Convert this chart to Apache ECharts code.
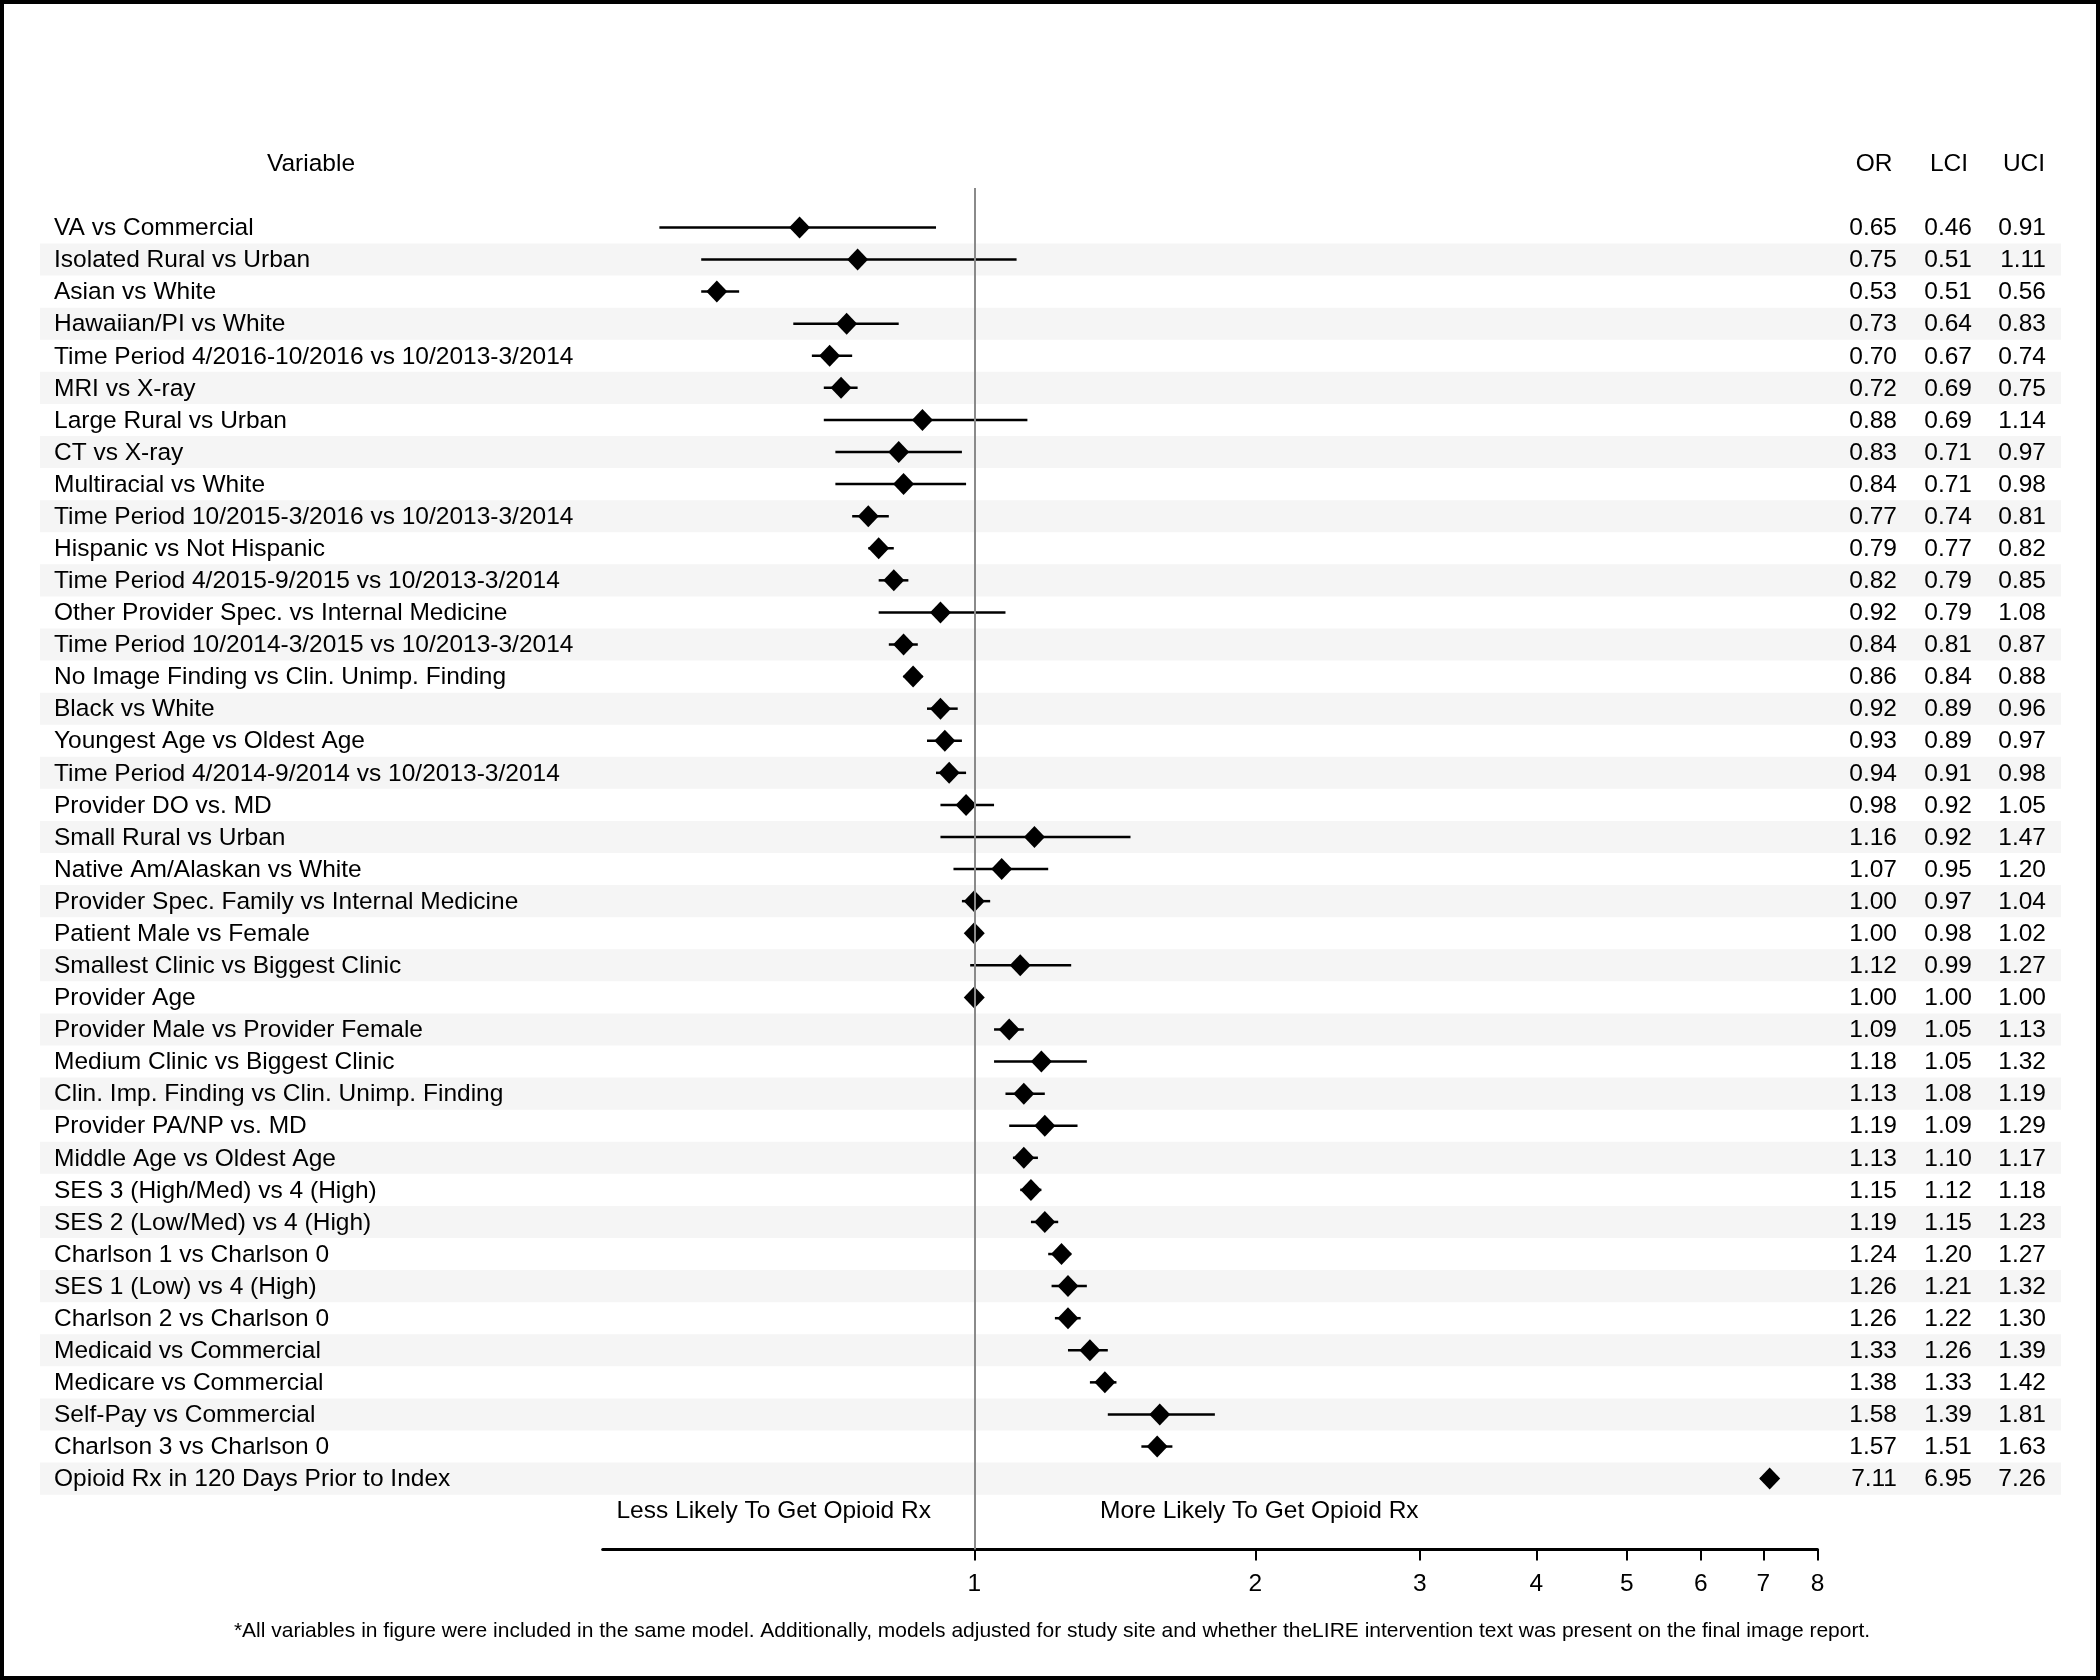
<!DOCTYPE html>
<html>
<head>
<meta charset="utf-8">
<script src="https://cdn.jsdelivr.net/npm/echarts@6/dist/echarts.min.js"></script>
<style>html,body{margin:0;padding:0;background:#fff;}#main{width:2100px;height:1680px;}</style>
</head>
<body>
<div id="main"></div>
<script>
const variables = [
  'VA vs Commercial',
  'Isolated Rural vs Urban',
  'Asian vs White',
  'Hawaiian/PI vs White',
  'Time Period 4/2016-10/2016 vs 10/2013-3/2014',
  'MRI vs X-ray',
  'Large Rural vs Urban',
  'CT vs X-ray',
  'Multiracial vs White',
  'Time Period 10/2015-3/2016 vs 10/2013-3/2014',
  'Hispanic vs Not Hispanic',
  'Time Period 4/2015-9/2015 vs 10/2013-3/2014',
  'Other Provider Spec. vs Internal Medicine',
  'Time Period 10/2014-3/2015 vs 10/2013-3/2014',
  'No Image Finding vs Clin. Unimp. Finding',
  'Black vs White',
  'Youngest Age vs Oldest Age',
  'Time Period 4/2014-9/2014 vs 10/2013-3/2014',
  'Provider DO vs. MD',
  'Small Rural vs Urban',
  'Native Am/Alaskan vs White',
  'Provider Spec. Family vs Internal Medicine',
  'Patient Male vs Female',
  'Smallest Clinic vs Biggest Clinic',
  'Provider Age',
  'Provider Male vs Provider Female',
  'Medium Clinic vs Biggest Clinic',
  'Clin. Imp. Finding vs Clin. Unimp. Finding',
  'Provider PA/NP vs. MD',
  'Middle Age vs Oldest Age',
  'SES 3 (High/Med) vs 4 (High)',
  'SES 2 (Low/Med) vs 4 (High)',
  'Charlson 1 vs Charlson 0',
  'SES 1 (Low) vs 4 (High)',
  'Charlson 2 vs Charlson 0',
  'Medicaid vs Commercial',
  'Medicare vs Commercial',
  'Self-Pay vs Commercial',
  'Charlson 3 vs Charlson 0',
  'Opioid Rx in 120 Days Prior to Index'
];
const orValues = [0.65,0.75,0.53,0.73,0.70,0.72,0.88,0.83,0.84,0.77,0.79,0.82,0.92,0.84,0.86,0.92,0.93,0.94,0.98,1.16,1.07,1.00,1.00,1.12,1.00,1.09,1.18,1.13,1.19,1.13,1.15,1.19,1.24,1.26,1.26,1.33,1.38,1.58,1.57,7.11];
const lciValues = [0.46,0.51,0.51,0.64,0.67,0.69,0.69,0.71,0.71,0.74,0.77,0.79,0.79,0.81,0.84,0.89,0.89,0.91,0.92,0.92,0.95,0.97,0.98,0.99,1.00,1.05,1.05,1.08,1.09,1.10,1.12,1.15,1.20,1.21,1.22,1.26,1.33,1.39,1.51,6.95];
const uciValues = [0.91,1.11,0.56,0.83,0.74,0.75,1.14,0.97,0.98,0.81,0.82,0.85,1.08,0.87,0.88,0.96,0.97,0.98,1.05,1.47,1.20,1.04,1.02,1.27,1.00,1.13,1.32,1.19,1.29,1.17,1.18,1.23,1.27,1.32,1.30,1.39,1.42,1.81,1.63,7.26];
const xTicks = [1,2,3,4,5,6,7,8];
const columnHeaders = ['OR','LCI','UCI'];
const variableHeader = 'Variable';
const lessText = 'Less Likely To Get Opioid Rx';
const moreText = 'More Likely To Get Opioid Rx';
const footnote = '*All variables in figure were included in the same model. Additionally, models adjusted for study site and whether theLIRE intervention text was present on the final image report.';

const FONT = '"Liberation Sans", Arial, Helvetica, sans-serif';
const FS = 24.5;
const chart = echarts.init(document.getElementById('main'), null, {renderer: 'canvas'});

const rowIdx = variables.map((v, i) => i);
const colRight = [1897, 1972, 2046];
const colCenter = [1874, 1949, 2024];

const option = {
  animation: false,
  backgroundColor: '#ffffff',
  textStyle: {fontFamily: FONT},
  grid: {left: 602.7, right: 282.5, top: 188, bottom: 130.5, containLabel: false},
  xAxis: {
    type: 'log', logBase: 10, min: 0.4, max: 8,
    axisLine: {show: true, onZero: false, lineStyle: {color: '#000', width: 3}},
    axisTick: {show: true, length: 11, customValues: xTicks, lineStyle: {color: '#000', width: 2}},
    axisLabel: {customValues: xTicks, fontSize: FS, color: '#000', margin: 22, fontFamily: FONT,
      formatter: v => String(Math.round(v))},
    splitLine: {show: false},
    minorTick: {show: false}
  },
  yAxis: {type: 'value', inverse: true, min: -1.23, max: 41.21, show: false},
  graphic: [
    {type: 'rect', shape: {x: 2, y: 2, width: 2096, height: 1676}, style: {fill: 'none', stroke: '#000', lineWidth: 4}, z: 100},
    {type: 'text', x: 311, y: 164, style: {text: variableHeader, fontSize: FS, fontFamily: FONT, fill: '#000', align: 'center', verticalAlign: 'middle'}},
    ...columnHeaders.map((h, k) => ({type: 'text', x: colCenter[k], y: 164,
      style: {text: h, fontSize: FS, fontFamily: FONT, fill: '#000', align: 'center', verticalAlign: 'middle'}})),
    {type: 'text', x: 931, y: 1511, style: {text: lessText, fontSize: FS, fontFamily: FONT, fill: '#000', align: 'right', verticalAlign: 'middle'}},
    {type: 'text', x: 1100, y: 1511, style: {text: moreText, fontSize: FS, fontFamily: FONT, fill: '#000', align: 'left', verticalAlign: 'middle'}},
    {type: 'text', x: 1052, y: 1631, style: {text: footnote, fontSize: 21, fontFamily: FONT, fill: '#000', align: 'center', verticalAlign: 'middle'}}
  ],
  series: [
    {
      type: 'custom', name: 'stripes', silent: true, z: 0, clip: false,
      data: rowIdx.filter(i => i % 2 === 1).map(i => [1, i]),
      encode: {x: 0, y: 1},
      renderItem: (params, api) => {
        const i = api.value(1);
        const y0 = api.coord([1, i - 0.5])[1];
        const y1 = api.coord([1, i + 0.5])[1];
        return {type: 'rect', shape: {x: 40, y: y0, width: 2021, height: y1 - y0}, style: {fill: '#f5f5f5'}};
      }
    },
    {
      type: 'custom', name: 'labels', silent: true, z: 1, clip: false,
      data: rowIdx.map(i => [1, i]),
      encode: {x: 0, y: 1},
      renderItem: (params, api) => {
        const i = api.value(1);
        const y = api.coord([1, i])[1] + 1;
        const k = params.dataIndex;
        const vals = [orValues[k], lciValues[k], uciValues[k]];
        const children = [{type: 'text', style: {text: variables[k], x: 54, y: y, fill: '#000', fontSize: FS, fontFamily: FONT, align: 'left', verticalAlign: 'middle'}}];
        vals.forEach((v, c) => children.push({type: 'text', style: {text: v.toFixed(2), x: colRight[c], y: y, fill: '#000', fontSize: FS, fontFamily: FONT, align: 'right', verticalAlign: 'middle'}}));
        return {type: 'group', children: children};
      }
    },
    {
      type: 'custom', name: 'ci', silent: true, z: 2, clip: false,
      data: rowIdx.map(i => [lciValues[i], uciValues[i], i]),
      encode: {x: [0, 1], y: 2},
      renderItem: (params, api) => {
        const p0 = api.coord([api.value(0), api.value(2)]);
        const p1 = api.coord([api.value(1), api.value(2)]);
        return {type: 'line', shape: {x1: p0[0], y1: p0[1], x2: p1[0], y2: p1[1]}, style: {stroke: '#000', lineWidth: 2.5}};
      }
    },
    {
      type: 'scatter', name: 'OR', silent: true, z: 3,
      data: rowIdx.map(i => [orValues[i], i]),
      symbol: 'diamond', symbolSize: [21, 22],
      itemStyle: {color: '#000', opacity: 1},
      markLine: {silent: true, symbol: ['none', 'none'], label: {show: false},
        lineStyle: {color: '#8a8a8a', width: 2, type: 'solid'}, data: [{xAxis: 1}]}
    }
  ]
};
chart.setOption(option);
</script>
</body>
</html>
